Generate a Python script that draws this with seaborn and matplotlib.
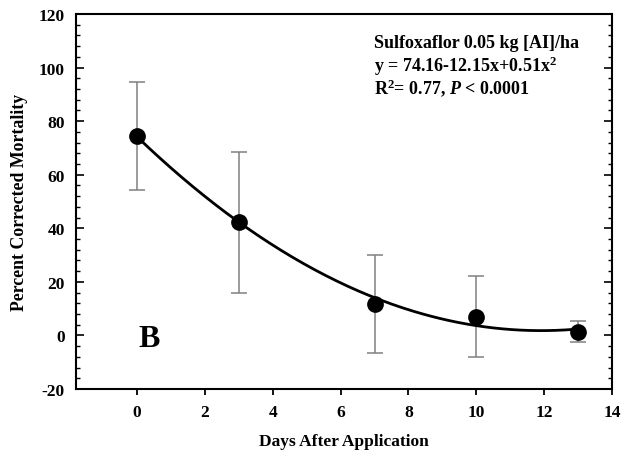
import numpy as np
import pandas as pd
import matplotlib
matplotlib.use("Agg")
import matplotlib.pyplot as plt
import seaborn as sns
from matplotlib.ticker import MultipleLocator

days = [0, 3, 7, 10, 13]
mortality = [74.5, 42.2, 11.8, 7.0, 1.4]
err = [20.2, 26.4, 18.2, 15.2, 4.0]
coef = [74.16, -12.15, 0.51]  # fitted y = a + b x + c x^2 (from the chart)
x_ticks = [0, 2, 4, 6, 8, 10, 12, 14]
y_ticks = [-20, 0, 20, 40, 60, 80, 100, 120]

sns.set_theme(style="white")
plt.rcParams['font.family'] = ['Liberation Serif', 'DejaVu Serif']
plt.rcParams['font.weight'] = 'bold'
plt.rcParams['text.color'] = 'black'
plt.rcParams['axes.labelcolor'] = 'black'
plt.rcParams['axes.unicode_minus'] = False
plt.rcParams['mathtext.fontset'] = 'custom'
plt.rcParams['mathtext.rm'] = 'Liberation Serif:bold'
plt.rcParams['mathtext.bf'] = 'Liberation Serif:bold'
plt.rcParams['mathtext.it'] = 'Liberation Serif:italic:bold'
plt.rcParams['mathtext.bfit'] = 'Liberation Serif:italic:bold'

fig = plt.figure(figsize=(6.24, 4.64), dpi=100)
ax = fig.add_axes([76/624, 1-390/464, (612-76)/624, (390-15)/464])

xs = np.linspace(days[0], days[-1], 200)
fit = pd.DataFrame({"x": xs, "y": coef[0] + coef[1]*xs + coef[2]*xs**2})
sns.lineplot(data=fit, x="x", y="y", ax=ax, color="black", lw=2, zorder=3)

ax.errorbar(days, mortality, yerr=err, fmt='none', ecolor='#808080',
            elinewidth=1.1, capsize=5.5, capthick=1.1, zorder=2)
df = pd.DataFrame({"days": days, "mortality": mortality})
sns.scatterplot(data=df, x="days", y="mortality", ax=ax, color="black",
                s=145, linewidth=0, zorder=4)

ax.set_xlim(-1.8, 14)
ax.set_ylim(-20, 120)
ax.set_xticks(x_ticks)
ax.set_yticks(y_ticks)
ax.yaxis.set_minor_locator(MultipleLocator(4))
for s in ax.spines.values():
    s.set_color("black")
    s.set_linewidth(1.5)

ax.tick_params(axis='x', direction='out', length=4, width=1.3, colors='black',
               labelsize=12.5, pad=7, bottom=True, top=False)
ax.tick_params(axis='y', which='major', direction='in', length=6, width=1.2,
               colors='black', labelsize=12.5, left=True, right=True, pad=8)
ax.tick_params(axis='y', which='minor', direction='in', length=3, width=1,
               colors='black', left=True, right=True)
for lab in ax.get_xticklabels() + ax.get_yticklabels():
    lab.set_fontweight('bold')

ax.set_xlabel("Days After Application", fontsize=12.5, fontweight='bold', labelpad=9)
ax.set_ylabel("Percent Corrected Mortality", fontsize=12.8, fontweight='bold', labelpad=8)

kw = dict(transform=ax.transAxes, fontsize=13, fontweight='bold', va='center', ha='left')
ax.text(0.556, 0.925, "Sulfoxaflor 0.05 kg [AI]/ha", **kw)
ax.text(0.556, 0.862, r"y = 74.16-12.15x+0.51x$^\mathbf{2}$", **kw)
ax.text(0.556, 0.805, r"R$^\mathbf{2}$= 0.77, $\mathit{P}$ < 0.0001", **kw)
ax.text(0.136, 0.135, "B", transform=ax.transAxes, fontsize=23, fontweight='bold',
        va='center', ha='center')

fig.savefig("out.png", dpi=100)
